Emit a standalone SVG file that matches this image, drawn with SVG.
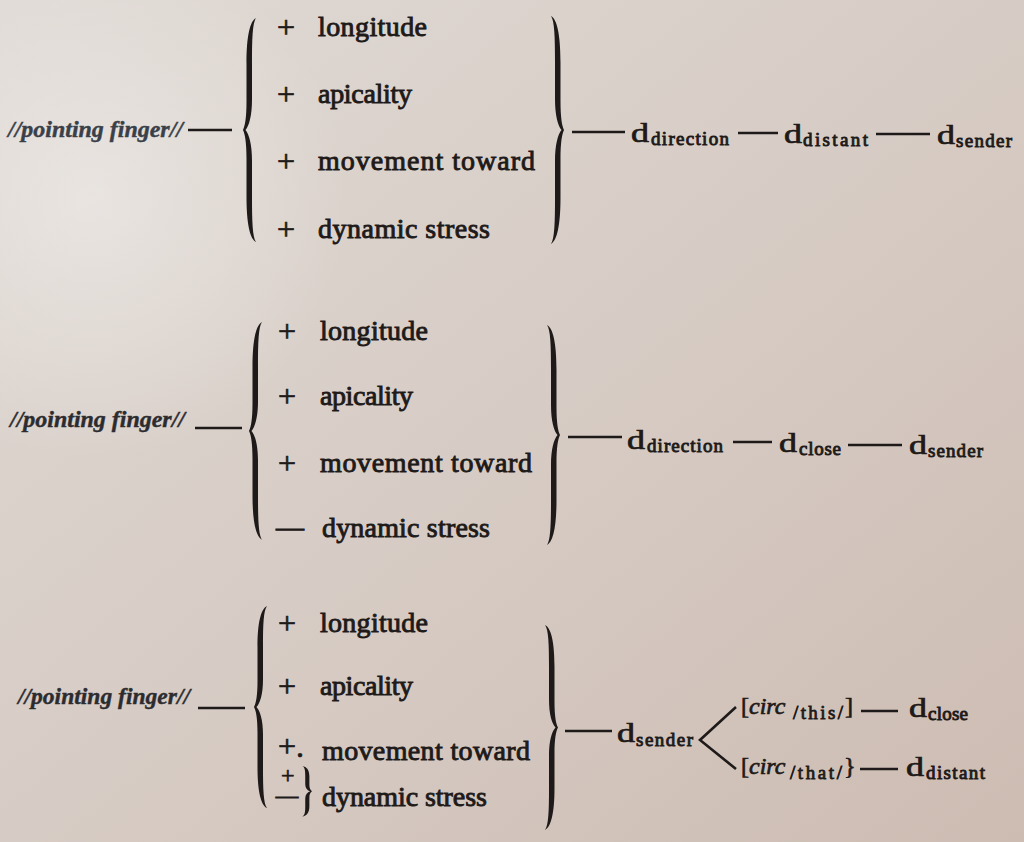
<svg xmlns="http://www.w3.org/2000/svg" xmlns:xlink="http://www.w3.org/1999/xlink" width="1024" height="842" viewBox="0 0 1024 842">
  <defs>
    <linearGradient id="paper" x1="0" y1="0" x2="1" y2="1">
      <stop offset="0" stop-color="#e0dad5"/>
      <stop offset="0.5" stop-color="#d7ccc5"/>
      <stop offset="1" stop-color="#cdbcb2"/>
    </linearGradient>
    <radialGradient id="glow" cx="90" cy="200" r="260" gradientUnits="userSpaceOnUse">
      <stop offset="0" stop-color="#f2f0ee" stop-opacity="0.55"/>
      <stop offset="1" stop-color="#f2f0ee" stop-opacity="0"/>
    </radialGradient>
    <!-- curly brace: cusp at (0,110), arm ends at x=13 -->
    <path id="brace" d="M13,0 C7,3 3.5,18 3.5,45 L3.5,82 C3.5,98 2,106 0,110 C2,114 3.5,122 3.5,138 L3.5,175 C3.5,202 7,217 13,220 C9.5,215 9,200 9,175 L9,140 C9,124 6,114 2.5,110 C6,106 9,96 9,80 L9,45 C9,20 9.5,5 13,0 Z"/>
    <style>
      .ink { fill: #1e1a19; }
      .t { font-family: "Liberation Serif", serif; font-size: 28px; fill: #1e1a19; stroke: #1e1a19; stroke-width: 0.9px; }
      .pm { font-family: "Liberation Serif", serif; font-size: 32px; fill: #1e1a19; stroke: #1e1a19; stroke-width: 0.7px; }
      .pms { font-size: 24px; }
      .mn { font-size: 18px; stroke-width: 1.2px; }
      .lbl { font-family: "Liberation Serif", serif; font-style: italic; font-weight: bold; font-size: 23px; fill: #2c2c30; stroke: #2c2c30; stroke-width: 0.4px; }
      .lbl1 { fill: #3a4049; stroke: #3a4049; }
      .d { font-family: "Liberation Serif", serif; font-size: 28px; fill: #1e1a19; stroke: #1e1a19; stroke-width: 0.7px; }
      .sub { font-family: "Liberation Serif", serif; font-size: 19px; fill: #1e1a19; stroke: #1e1a19; stroke-width: 0.9px; }
      .circ { font-family: "Liberation Serif", serif; font-size: 24px; fill: #1e1a19; stroke: #1e1a19; stroke-width: 0.7px; }
      .ci { font-style: italic; }
      .cs { font-family: "Liberation Serif", serif; font-size: 19px; fill: #1e1a19; stroke: #1e1a19; stroke-width: 0.8px; }
      .conn line, .conn polyline { stroke: #1e1a19; stroke-width: 2.6; fill: none; stroke-linecap: butt; }
    </style>
  </defs>

  <!-- paper -->
  <rect width="1024" height="842" fill="url(#paper)"/>
  <rect width="1024" height="842" fill="url(#glow)"/>

  <!-- connectors -->
  <g id="connectors" class="conn">
    <!-- diagram 1 -->
    <line x1="188" y1="130" x2="232" y2="130"/>
    <line x1="572" y1="132" x2="625" y2="132"/>
    <line x1="738" y1="133" x2="778" y2="133"/>
    <line x1="876" y1="134" x2="930" y2="134"/>
    <!-- diagram 2 -->
    <line x1="195" y1="428" x2="242" y2="428"/>
    <line x1="568" y1="437" x2="622" y2="437"/>
    <line x1="733" y1="442" x2="772" y2="442"/>
    <line x1="848" y1="445" x2="902" y2="445"/>
    <!-- diagram 3 -->
    <line x1="198" y1="708" x2="245" y2="708"/>
    <line x1="565" y1="731" x2="612" y2="731"/>
    <polyline points="736,707 700,740 736,769"/>
    <line x1="861" y1="711" x2="898" y2="711"/>
    <line x1="860" y1="769" x2="898" y2="769"/>
  </g>

  <!-- diagram 1 -->
  <g id="d1-sign"><text class="lbl lbl1" x="8" y="137" textLength="175" lengthAdjust="spacingAndGlyphs">//pointing finger//</text></g>
  <g id="d1-features">
    <use xlink:href="#brace" class="ink" transform="translate(243,18) scale(1,1.018)"/>
    <text class="pm" x="277" y="38">+</text>
    <text class="t" x="318" y="36" textLength="109">longitude</text>
    <text class="pm" x="277" y="105">+</text>
    <text class="t" x="318" y="103" textLength="94">apicality</text>
    <text class="pm" x="277" y="172">+</text>
    <text class="t" x="318" y="170" textLength="217">movement toward</text>
    <text class="pm" x="277" y="240">+</text>
    <text class="t" x="318" y="238" textLength="172">dynamic stress</text>
    <use xlink:href="#brace" class="ink" transform="translate(564,16) scale(-1,1.036)"/>
  </g>
  <g id="d1-direction"><text class="d" x="631" y="142" textLength="18" lengthAdjust="spacingAndGlyphs">d</text><text class="sub" x="651" y="145" textLength="78">direction</text></g>
  <g id="d1-distant"><text class="d" x="784" y="143" textLength="18" lengthAdjust="spacingAndGlyphs">d</text><text class="sub" x="803" y="146" textLength="65">distant</text></g>
  <g id="d1-sender"><text class="d" x="937" y="144" textLength="18" lengthAdjust="spacingAndGlyphs">d</text><text class="sub" x="956" y="147" textLength="56">sender</text></g>

  <!-- diagram 2 -->
  <g id="d2-sign"><text class="lbl" x="10" y="427" textLength="175" lengthAdjust="spacingAndGlyphs">//pointing finger//</text></g>
  <g id="d2-features">
    <use xlink:href="#brace" class="ink" transform="translate(249,322) scale(1,0.99)"/>
    <text class="pm" x="278" y="342">+</text>
    <text class="t" x="320" y="340" textLength="108">longitude</text>
    <text class="pm" x="278" y="407">+</text>
    <text class="t" x="320" y="405" textLength="93">apicality</text>
    <text class="pm" x="278" y="474">+</text>
    <text class="t" x="320" y="472" textLength="212">movement toward</text>
    <text class="t" x="276" y="536" textLength="22">—</text>
    <text class="t" x="322" y="537" textLength="168">dynamic stress</text>
    <use xlink:href="#brace" class="ink" transform="translate(560,325) scale(-1,1)"/>
  </g>
  <g id="d2-direction"><text class="d" x="627" y="449" textLength="18" lengthAdjust="spacingAndGlyphs">d</text><text class="sub" x="647" y="452" textLength="76">direction</text></g>
  <g id="d2-close"><text class="d" x="779" y="452" textLength="18" lengthAdjust="spacingAndGlyphs">d</text><text class="sub" x="799" y="455" textLength="42">close</text></g>
  <g id="d2-sender"><text class="d" x="909" y="454" textLength="18" lengthAdjust="spacingAndGlyphs">d</text><text class="sub" x="928" y="457" textLength="55">sender</text></g>

  <!-- diagram 3 -->
  <g id="d3-sign"><text class="lbl" x="18" y="704" textLength="172" lengthAdjust="spacingAndGlyphs">//pointing finger//</text></g>
  <g id="d3-features">
    <use xlink:href="#brace" class="ink" transform="translate(254,606) scale(1,0.918)"/>
    <text class="pm" x="278" y="634">+</text>
    <text class="t" x="320" y="632" textLength="108">longitude</text>
    <text class="pm" x="278" y="697">+</text>
    <text class="t" x="320" y="695" textLength="93">apicality</text>
    <text class="pm" x="278" y="757">+.</text>
    <text class="t" x="322" y="760" textLength="208">movement toward</text>
    <text class="pm pms" x="281" y="783">+</text>
    <text class="t mn" x="276" y="802" textLength="22" lengthAdjust="spacingAndGlyphs">—</text>
    <use xlink:href="#brace" class="ink" transform="translate(312,766) scale(-0.75,0.23)"/>
    <text class="t" x="322" y="806" textLength="165">dynamic stress</text>
    <use xlink:href="#brace" class="ink" transform="translate(558,625) scale(-1,0.932)"/>
  </g>
  <g id="d3-sender"><text class="d" x="617" y="742" textLength="18" lengthAdjust="spacingAndGlyphs">d</text><text class="sub" x="636" y="746" textLength="57">sender</text></g>
  <g id="d3-this">
    <text class="circ" x="741" y="714">[<tspan class="ci">circ</tspan></text>
    <text class="cs" x="793" y="719" textLength="50">/this/</text>
    <text class="circ" x="845" y="714">]</text>
  </g>
  <g id="d3-close"><text class="d" x="909" y="717" textLength="18" lengthAdjust="spacingAndGlyphs">d</text><text class="sub" x="928" y="720" textLength="40">close</text></g>
  <g id="d3-that">
    <text class="circ" x="741" y="774">[<tspan class="ci">circ</tspan></text>
    <text class="cs" x="790" y="779" textLength="52">/that/</text>
    <text class="circ" x="844" y="774">}</text>
  </g>
  <g id="d3-distant"><text class="d" x="906" y="776" textLength="18" lengthAdjust="spacingAndGlyphs">d</text><text class="sub" x="926" y="779" textLength="59">distant</text></g>
</svg>
